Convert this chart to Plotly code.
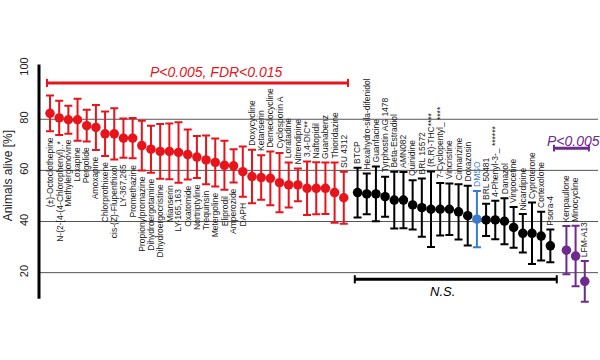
import plotly.graph_objects as go

# ---------------- data ----------------
red_names = ["(±)-Octoclothepine", "N-(2-[4-(4-Chlorophenyl)..*", "Methylergonovine", "Loxapine",
             "Pergolide", "Amoxapine", "Chlorprothixene", "cis-(Z)-Flupenthixol", "LY-367,265",
             "Promethazine", "Propionylpromazine", "Dihydroergotamine", "Dihydroergocristine",
             "Mianserin", "LY-165,163", "Oxatomide", "Nortriptyline", "Trequinsin", "Metergoline",
             "Eliprodil", "Amperozide", "DAPH", "Doxycycline", "Ketanserin", "Demeclocycline",
             "Cyclosporin A", "Loratadine", "Nitrendipine", "3,4-DIC**", "Naftopidil", "Guanabenz",
             "Thioridazine", "SU 4312"]
red_vals = [82.3, 80.5, 79.8, 79.8, 77.5, 76.8, 74.3, 74.3, 72.6, 72.6, 69.7, 68.3, 67.4, 67.4,
            67.0, 66.2, 65.2, 64.1, 63.1, 62.0, 61.8, 59.5, 57.6, 57.2, 56.9, 55.2, 54.3, 54.3,
            53.0, 53.0, 53.0, 51.3, 49.3]
red_errs = [7.0, 6.7, 5.5, 8.2, 6.2, 8.8, 8.7, 10.0, 7.7, 7.9, 9.7, 9.2, 10.7, 10.9, 11.8, 9.8,
            8.2, 9.5, 9.4, 9.6, 6.5, 9.8, 10.5, 8.7, 10.5, 11.6, 8.8, 6.4, 10.5, 10.2, 10.1, 11.8,
            10.2]

black1_names = ["BTCP", "Hexahydro-sila-difenidol", "Guanfacine", "Tyrphostin AG 1478",
                "Beta-Estradiol", "AMN082", "Quinidine", "BRL 15572", "(R,R)-THC****",
                "7-Cyclopentyl_ ****", "Vincristine", "Cinnarizine", "Doxazosin"]
black1_vals = [51.3, 50.8, 50.8, 49.7, 48.4, 48.4, 46.5, 45.4, 44.8, 44.8, 44.8, 43.8, 42.3]
black1_errs = [9.7, 8.0, 10.7, 7.8, 11.1, 11.0, 9.6, 11.4, 14.8, 10.3, 10.1, 10.8, 11.7]

dmso_names = ["DMSO"]
dmso_vals = [40.9]
dmso_errs = [11.0]

black2_names = ["BRL 50481", "4-Phenyl-3-_ ******", "Danazol", "Vinpocetine", "Nicardipine",
                "Cyproterone", "Cortexolone", "Psora-4"]
black2_vals = [40.6, 40.6, 40.1, 37.7, 35.4, 35.4, 34.3, 30.5]
black2_errs = [6.3, 7.5, 9.0, 8.0, 7.5, 12.0, 9.5, 6.4]

purple_names = ["Kenpaullone", "Minocycline", "LFM-A13"]
purple_vals = [28.8, 26.5, 16.6]
purple_errs = [9.4, 11.8, 8.0]

y_ticks = [20, 40, 60, 80, 100]
y_title = "Animals alive [%]"
sig_red_text = "P<0.005, FDR<0.015"
sig_purple_text = "P<0.005"
ns_text = "N.S."

# ---------------- styling ----------------
RED = "#e8141c"
BLACK = "#000000"
BLUE = "#3a7ccb"
PURPLE = "#6e2a8c"
FONT = "Liberation Sans, Arial"
LABEL_COLOR = "#1a1a1a"

groups = [
    (red_names, red_vals, red_errs, RED, 0.0, LABEL_COLOR),
    (black1_names, black1_vals, black1_errs, BLACK, 0.5, LABEL_COLOR),
    (dmso_names, dmso_vals, dmso_errs, BLUE, 0.5, BLUE),
    (black2_names, black2_vals, black2_errs, BLACK, 0.5, LABEL_COLOR),
    (purple_names, purple_vals, purple_errs, PURPLE, 1.25, LABEL_COLOR),
]

fig = go.Figure()
annotations = []
idx = 0
n_below = 22  # first labels hang below their error bars
for names, vals, errs, col, off, lcol in groups:
    xs = [idx + i + off for i in range(len(names))]
    fig.add_trace(go.Scatter(
        x=xs, y=vals, mode="markers",
        marker=dict(size=9.5, color=col),
        error_y=dict(type="data", array=errs, visible=True, color=col, thickness=2, width=4),
        showlegend=False, cliponaxis=False, hoverinfo="skip",
    ))
    for i, (nm, v, e) in enumerate(zip(names, vals, errs)):
        gi = idx + i
        if gi < n_below:
            annotations.append(dict(x=xs[i], y=v - e, text=nm, textangle=-90, showarrow=False,
                                    xanchor="center", yanchor="top", yshift=-4,
                                    font=dict(size=8.5, color=lcol, family=FONT)))
        else:
            annotations.append(dict(x=xs[i], y=v + e, text=nm, textangle=-90, showarrow=False,
                                    xanchor="center", yanchor="bottom", yshift=2,
                                    font=dict(size=8.5, color=lcol, family=FONT)))
    idx += len(names)

shapes = []
# gridlines
for t in y_ticks[:-1]:
    shapes.append(dict(type="line", xref="paper", yref="y", x0=0, x1=1, y0=t, y1=t,
                       line=dict(color="#555555", width=1), layer="below"))
# y axis line
shapes.append(dict(type="line", xref="paper", yref="y", x0=0, x1=0, y0=9.8, y1=101.4,
                   line=dict(color="black", width=3)))


def bracket(x0, x1, y, col, cap=1.6):
    shapes.append(dict(type="line", xref="x", yref="y", x0=x0, x1=x1, y0=y, y1=y,
                       line=dict(color=col, width=3)))
    for xx in (x0, x1):
        shapes.append(dict(type="line", xref="x", yref="y", x0=xx, x1=xx, y0=y - cap, y1=y + cap,
                           line=dict(color=col, width=2)))


bracket(-0.33, 32.46, 94.2, RED)
bracket(54.9, 58.7, 68.7, PURPLE, cap=1.3)
bracket(33.2, 55.2, 17.4, BLACK)

annotations += [
    dict(x=18.1, y=98.6, text=sig_red_text, showarrow=False, xanchor="center", yanchor="middle",
         font=dict(size=14, color=RED, family=FONT, style="italic")),
    dict(x=57.0, y=71.4, text=sig_purple_text, showarrow=False, xanchor="center", yanchor="middle",
         font=dict(size=14, color=PURPLE, family=FONT, style="italic")),
    dict(x=42.8, y=12.6, text=ns_text, showarrow=False, xanchor="center", yanchor="middle",
         font=dict(size=13, color=BLACK, family=FONT, style="italic")),
    dict(x=-0.054, xref="paper", y=58, text=y_title, textangle=-90, showarrow=False,
         xanchor="center", yanchor="middle",
         font=dict(size=12, color="#222222", family=FONT)),
]

fig.update_layout(
    width=600, height=360,
    margin=dict(l=39, r=2, t=63, b=49, autoexpand=False),
    paper_bgcolor="white", plot_bgcolor="white",
    xaxis=dict(range=[-1.198, 59.69], visible=False, showgrid=False, zeroline=False,
               automargin=False),
    yaxis=dict(range=[5, 102], tickvals=y_ticks, ticktext=[str(t) for t in y_ticks],
               tickangle=-90, showgrid=False, zeroline=False, showline=False,
               ticks="", ticklabelstandoff=8, automargin=False,
               tickfont=dict(size=11, color="#222222", family=FONT)),
    shapes=shapes, annotations=annotations,
)

fig.write_html("out.html", config={"displayModeBar": False, "staticPlot": True},
               post_script="document.body.style.margin='0';document.body.style.padding='0';")
